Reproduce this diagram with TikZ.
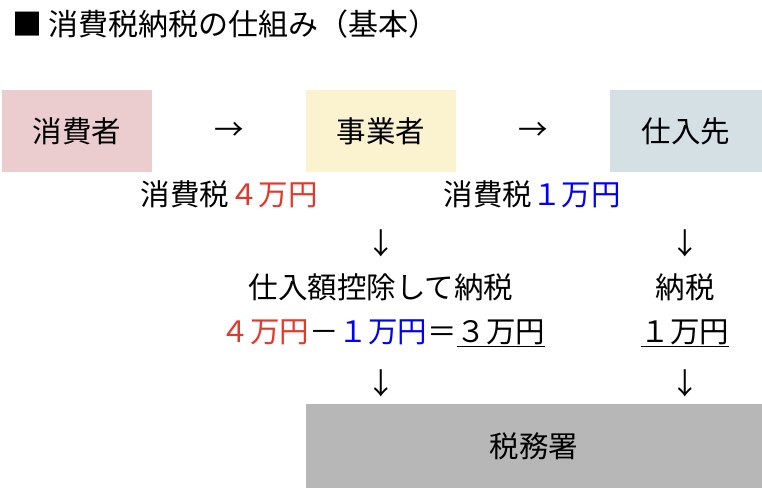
\documentclass[tikz,border=0pt]{standalone}
\usepackage{fontspec}
\setmainfont{Noto Sans CJK JP}
\usetikzlibrary{positioning}

\definecolor{pinkbox}{HTML}{EBCCCF}
\definecolor{yellowbox}{HTML}{FBF2D0}
\definecolor{bluebox}{HTML}{D5E0E5}
\definecolor{graybox}{HTML}{B7B7B7}
\definecolor{taxred}{HTML}{E8372A}
\definecolor{taxblue}{HTML}{0000FF}

\begin{document}
\begin{tikzpicture}[x=1bp,y=-1bp,
    every node/.style={font=\fontsize{29.5bp}{34bp}\selectfont, inner sep=0pt},
    party/.style={minimum width=150bp, minimum height=82bp},
    glyph/.style={font=\fontsize{29.5bp}{34bp}\selectfont}]
    \useasboundingbox (0,0) rectangle (762,488);

    \node[anchor=west, font=\fontsize{30bp}{34bp}\selectfont] (title) at (12,24)
        {■ 消費税納税の仕組み（基本）};

    \node[party, fill=pinkbox] (consumer) at (77,131) {消費者};
    \node[party, fill=yellowbox] (business) at (381,131) {事業者};
    \node[party, fill=bluebox, minimum width=152bp] (supplier) at (686,131) {仕入先};
    \node[fill=graybox, minimum width=456bp, minimum height=84bp] (office) at (534,446) {税務署};

    \node[glyph] (arrowA) at (229,131) {→};
    \node[glyph] (arrowB) at (533,131) {→};

    \node (taxA) at (229,194) {消費税\textcolor{taxred}{４万円}};
    \node (taxB) at (532,194) {消費税\textcolor{taxblue}{１万円}};

    \node[glyph] (downA) at (381,243) {↓};
    \node[glyph] (downB) at (685,243) {↓};

    \node (deduct) at (381,287) {仕入額控除して納税};
    \node (pay) at (685,287) {納税};

    \node (calc) at (383,333) {\textcolor{taxred}{４万円}－\textcolor{taxblue}{１万円}＝\underline{３万円}};
    \node (payamt) at (685,333) {\underline{１万円}};

    \node[glyph] (downC) at (381,383) {↓};
    \node[glyph] (downD) at (685,383) {↓};
\end{tikzpicture}
\end{document}
